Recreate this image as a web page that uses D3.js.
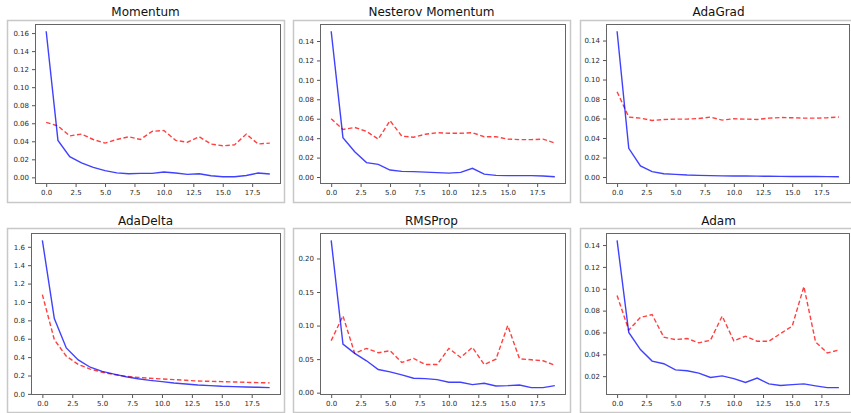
<!DOCTYPE html>
<html>
<head>
<meta charset="utf-8">
<script src="https://cdn.jsdelivr.net/npm/d3@7"></script>
<style>
body { margin: 0; background: #fff; }
text { font-family: "DejaVu Sans", sans-serif; }
</style>
</head>
<body>
<div id="chart"></div>
<script>
// loss per epoch, blue = training, red dashed = validation
const momentumTrain = [0.162, 0.041, 0.023, 0.016, 0.011, 0.0074, 0.005, 0.004, 0.0044, 0.0044, 0.006, 0.0048, 0.0033, 0.004, 0.0018, 0.0007, 0.0007, 0.002, 0.0048, 0.0037];
const momentumVal = [0.061, 0.057, 0.046, 0.048, 0.042, 0.038, 0.042, 0.045, 0.042, 0.051, 0.052, 0.041, 0.039, 0.045, 0.037, 0.035, 0.036, 0.048, 0.037, 0.038];

const nesterovTrain = [0.150, 0.0405, 0.026, 0.0148, 0.013, 0.0072, 0.0058, 0.0055, 0.005, 0.0045, 0.004, 0.0048, 0.009, 0.003, 0.0017, 0.0014, 0.0014, 0.0014, 0.001, 0.0003];
const nesterovVal = [0.060, 0.049, 0.051, 0.047, 0.039, 0.058, 0.042, 0.041, 0.044, 0.0456, 0.045, 0.045, 0.0456, 0.0415, 0.0415, 0.039, 0.0385, 0.0385, 0.039, 0.035];

const adagradTrain = [0.1495, 0.0294, 0.0113, 0.0055, 0.0034, 0.0027, 0.002, 0.0017, 0.0014, 0.0012, 0.0011, 0.001, 0.0009, 0.0008, 0.0007, 0.0006, 0.0005, 0.0005, 0.0004, 0.0003];
const adagradVal = [0.0874, 0.0615, 0.0604, 0.058, 0.059, 0.0594, 0.0594, 0.060, 0.0615, 0.0584, 0.0597, 0.0594, 0.059, 0.0604, 0.061, 0.0608, 0.0604, 0.0604, 0.0608, 0.0615];

const adadeltaTrain = [1.67, 0.82, 0.50, 0.37, 0.29, 0.245, 0.215, 0.187, 0.165, 0.147, 0.133, 0.119, 0.108, 0.097, 0.09, 0.083, 0.079, 0.075, 0.072, 0.068];
const adadeltaVal = [1.08, 0.59, 0.41, 0.32, 0.27, 0.235, 0.21, 0.19, 0.18, 0.17, 0.162, 0.155, 0.148, 0.14, 0.137, 0.133, 0.13, 0.126, 0.122, 0.12];

const rmspropTrain = [0.227, 0.0725, 0.0585, 0.0475, 0.0345, 0.031, 0.0265, 0.0215, 0.021, 0.0195, 0.0155, 0.0155, 0.012, 0.014, 0.010, 0.0105, 0.0115, 0.0075, 0.0075, 0.0105];
const rmspropVal = [0.0775, 0.1145, 0.0585, 0.066, 0.0595, 0.0625, 0.045, 0.051, 0.042, 0.042, 0.066, 0.0525, 0.0675, 0.042, 0.050, 0.100, 0.0505, 0.049, 0.0475, 0.041];

const adamTrain = [0.1443, 0.060, 0.0443, 0.0338, 0.0314, 0.0258, 0.025, 0.0228, 0.0188, 0.0203, 0.0178, 0.0142, 0.0182, 0.0129, 0.0114, 0.0123, 0.0129, 0.0111, 0.0095, 0.0095];
const adamVal = [0.0938, 0.0622, 0.0738, 0.0763, 0.0557, 0.0535, 0.0545, 0.0505, 0.0529, 0.075, 0.0523, 0.0566, 0.052, 0.052, 0.059, 0.0658, 0.102, 0.0514, 0.0412, 0.044];

const titles = ['Momentum', 'Nesterov Momentum', 'AdaGrad', 'AdaDelta', 'RMSProp', 'Adam'];
const xTicks = [0, 2.5, 5, 7.5, 10, 12.5, 15, 17.5];
const yTicks2 = [0, 0.02, 0.04, 0.06, 0.08, 0.10, 0.12, 0.14, 0.16];
const yTicksDelta = [0, 0.2, 0.4, 0.6, 0.8, 1.0, 1.2, 1.4, 1.6];
const yTicksRms = [0, 0.05, 0.10, 0.15, 0.20];

const panels = [
    {train: momentumTrain, val: momentumVal, ticks: yTicks2, fmt: '.2f'},
    {train: nesterovTrain, val: nesterovVal, ticks: yTicks2, fmt: '.2f'},
    {train: adagradTrain, val: adagradVal, ticks: yTicks2, fmt: '.2f'},
    {train: adadeltaTrain, val: adadeltaVal, ticks: yTicksDelta, fmt: '.1f'},
    {train: rmspropTrain, val: rmspropVal, ticks: yTicksRms, fmt: '.2f'},
    {train: adamTrain, val: adamVal, ticks: yTicks2, fmt: '.2f'}
];

let width = 851,
    height = 413;

// frame boxes for each subplot (outer card + inner axes)
let cols = [
    {ox: 7, ow: 277, ax: 35, ar: 281},
    {ox: 293, ow: 277, ax: 320, ar: 566},
    {ox: 580, ow: 277, ax: 606, ar: 850}
];
let rows = [
    {oy: 20, oh: 182, at: 24, ab: 184, ty: 16},
    {oy: 228, oh: 184, at: 233, ab: 395, ty: 225}
];

let svg = d3.select('#chart').append('svg')
    .attr('width', width)
    .attr('height', height);

panels.forEach((p, i) => {
    let c = cols[i % 3],
        r = rows[Math.floor(i / 3)];
    let left = (i === 3) ? 31 : c.ax;

    svg.append('rect')
        .attr('x', c.ox + 0.5)
        .attr('y', r.oy + 0.5)
        .attr('width', c.ow)
        .attr('height', r.oh)
        .attr('fill', 'none')
        .attr('stroke', '#c8c8c8')
        .attr('stroke-width', 1.5);

    svg.append('text')
        .attr('x', c.ox + c.ow / 2)
        .attr('y', r.ty)
        .attr('text-anchor', 'middle')
        .style('font-size', '12px')
        .attr('fill', '#111')
        .text(titles[i]);

    let all = p.train.concat(p.val);
    let lo = d3.min(all), hi = d3.max(all), pad = (hi - lo) * 0.05;

    let x = d3.scaleLinear().domain([-0.95, 19.95]).range([left, c.ar]);
    let y = d3.scaleLinear().domain([lo - pad, hi + pad]).range([r.ab, r.at]);

    let g = svg.append('g');

    let yTicks = p.ticks.filter(t => t >= lo - pad && t <= hi + pad);

    g.append('g')
        .attr('transform', `translate(${left}, 0)`)
        .call(d3.axisLeft(y).tickValues(yTicks).tickFormat(d3.format(p.fmt)).tickSize(3).tickPadding(3))
        .call(a => a.select('.domain').remove())
        .call(a => a.selectAll('line').attr('stroke', '#555'))
        .call(a => a.selectAll('text').attr('fill', '#2a2a2a').style('font-size', '7px').style('font-family', '"DejaVu Sans", sans-serif'));

    g.append('g')
        .attr('transform', `translate(0, ${r.ab})`)
        .call(d3.axisBottom(x).tickValues(xTicks).tickFormat(d3.format('.1f')).tickSize(3).tickPadding(3))
        .call(a => a.select('.domain').remove())
        .call(a => a.selectAll('line').attr('stroke', '#555'))
        .call(a => a.selectAll('text').attr('fill', '#2a2a2a').style('font-size', '7px').style('font-family', '"DejaVu Sans", sans-serif'));

    let line = d3.line()
        .x((d, k) => x(k))
        .y(d => y(d));

    g.append('path')
        .datum(p.val)
        .attr('d', line)
        .attr('fill', 'none')
        .attr('stroke', 'red')
        .attr('stroke-opacity', 0.75)
        .attr('stroke-width', 1.4)
        .attr('stroke-dasharray', '4.5,2.5');

    g.append('path')
        .datum(p.train)
        .attr('d', line)
        .attr('fill', 'none')
        .attr('stroke', 'blue')
        .attr('stroke-opacity', 0.75)
        .attr('stroke-width', 1.4);

    g.append('rect')
        .attr('x', left + 0.5)
        .attr('y', r.at + 0.5)
        .attr('width', c.ar - left - 1)
        .attr('height', r.ab - r.at - 1)
        .attr('fill', 'none')
        .attr('stroke', '#666')
        .attr('stroke-width', 1);
});
</script>
</body>
</html>
